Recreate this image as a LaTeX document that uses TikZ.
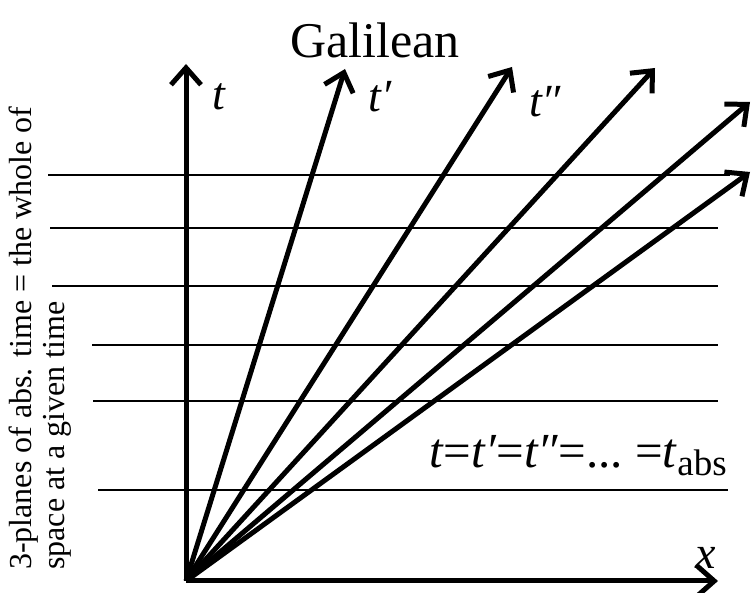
\documentclass[tikz,border=0pt]{standalone}
\usepackage{fontspec}
\setmainfont{Liberation Serif}
\usetikzlibrary{arrows.meta}

\begin{document}
\begin{tikzpicture}[
    x=1pt, y=1pt,
    worldline/.style={-{Straight Barb[length=17pt, width=30pt, line width=5pt]}, line width=5pt},
    plane/.style={line width=2.6pt},
    lbl/.style={font=\fontsize{46}{50}\selectfont\itshape, inner sep=0pt}
]
\useasboundingbox (0,0) rectangle (753,593);
% origin and tips
\coordinate (O) at (186,12);
\coordinate (tTip) at (186,529);
\coordinate (xTip) at (718,12);
\coordinate (t1Tip) at (345,524);
\coordinate (t2Tip) at (512,526);
\coordinate (t3Tip) at (655,525);
\coordinate (t4Tip) at (750,491);
\coordinate (t5Tip) at (750,421);
% planes of absolute time
\coordinate (p1L) at (48,418);  \coordinate (p1R) at (730,418);
\coordinate (p2L) at (50,365);  \coordinate (p2R) at (718,365);
\coordinate (p3L) at (52,307);  \coordinate (p3R) at (718,307);
\coordinate (p4L) at (92,248);  \coordinate (p4R) at (718,248);
\coordinate (p5L) at (93,192);  \coordinate (p5R) at (718,192);
\coordinate (p6L) at (98,103);  \coordinate (p6R) at (728,103);
\foreach \i in {1,...,6}
    \draw[plane] (p\i L) -- (p\i R);
% axes and frames
\draw[worldline] (O) -- (tTip);
\draw[worldline] (O) -- (xTip);
\foreach \i in {1,...,5}
    \draw[worldline] (O) -- (t\i Tip);
% labels
\node[font=\fontsize{50}{54}\selectfont, inner sep=0pt] (title) at (375,553) {Galilean};
\node[lbl] (tLabel) at (219,496) {t};
\node[lbl] (t1Label) at (380,496) {t′};
\node[lbl] (t2Label) at (545,491) {t″};
\node[lbl] (xLabel) at (706,35) {x};
\node[font=\fontsize{49}{52}\selectfont, inner sep=0pt, anchor=base east] (simul) at (727,125)
    {\textit{t}=\textit{t′}=\textit{t″}=...\ =\textit{t}\raisebox{-0.16em}{\fontsize{37}{38}\selectfont abs}};
\node[font=\fontsize{32}{33}\selectfont, inner sep=0pt, align=left, rotate=90, anchor=north west] (planes) at (9,23)
    {3-planes of abs. time = the whole of\\space at a given time};
\end{tikzpicture}
\end{document}
